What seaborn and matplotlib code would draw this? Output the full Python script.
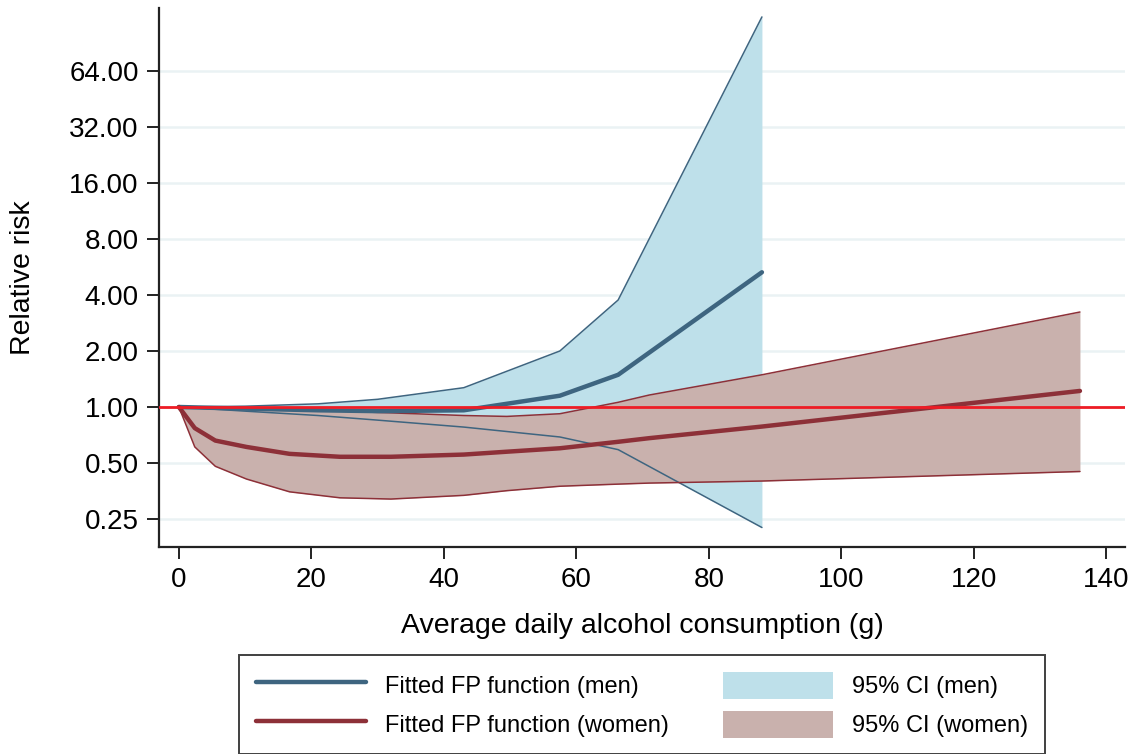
import numpy as np
import pandas as pd
import matplotlib
matplotlib.use("Agg")
import matplotlib.pyplot as plt
from matplotlib.lines import Line2D
from matplotlib.patches import Patch
import seaborn as sns

# ---- data ----
men_x = [0, 10, 21, 30, 43, 57.5, 66.3, 88]
men_rr = [1.0, 0.98, 0.96, 0.95, 0.96, 1.15, 1.49, 5.3]
men_lo = [1.0, 0.95, 0.90, 0.85, 0.78, 0.69, 0.59, 0.225]
men_hi = [1.0, 1.01, 1.04, 1.10, 1.27, 2.0, 3.76, 125.0]

women_x = [0, 2.4, 5.5, 10.2, 16.7, 24.3, 32, 43, 49.5, 57.5, 66.3, 71, 88, 136]
women_rr = [1.0, 0.77, 0.66, 0.61, 0.56, 0.54, 0.54, 0.555, 0.575, 0.60, 0.65, 0.68, 0.785, 1.22]
women_lo = [1.0, 0.61, 0.48, 0.41, 0.35, 0.325, 0.32, 0.335, 0.355, 0.375, 0.385, 0.39, 0.40, 0.45]
women_hi = [1.0, 0.995, 0.99, 0.985, 0.97, 0.95, 0.93, 0.90, 0.89, 0.92, 1.06, 1.16, 1.49, 3.24]

yticks = [0.25, 0.5, 1, 2, 4, 8, 16, 32, 64]
ytick_labels = ["0.25", "0.50", "1.00", "2.00", "4.00", "8.00", "16.00", "32.00", "64.00"]
xticks = [0, 20, 40, 60, 80, 100, 120, 140]

labels = ["Fitted FP function (men)", "Fitted FP function (women)", "95% CI (men)", "95% CI (women)"]

# ---- style ----
sns.set_theme(style="white")
plt.rcParams["font.family"] = ["Liberation Sans", "DejaVu Sans"]

men_line_c = "#3e6580"
men_fill_c = "#bee0ea"
women_line_c = "#8d3038"
women_fill_c = "#c9b1ad"
ref_c = "#ee1c25"
grid_c = "#eaf2f4"

df_men = pd.DataFrame({"x": men_x, "rr": men_rr, "lo": men_lo, "hi": men_hi})
df_women = pd.DataFrame({"x": women_x, "rr": women_rr, "lo": women_lo, "hi": women_hi})

fig = plt.figure(figsize=(11.36, 7.54), dpi=100)
ax = fig.add_axes([159 / 1136, 1 - 547 / 754, (1125 - 159) / 1136, (547 - 8) / 754])

ax.set_yscale("log", base=2)

for t in yticks:
    ax.axhline(t, color=grid_c, lw=1.8, zorder=0)

# CI fills
ax.fill_between(df_men["x"], df_men["lo"], df_men["hi"], color=men_fill_c, lw=0, zorder=1)
ax.fill_between(df_women["x"], df_women["lo"], df_women["hi"], color=women_fill_c, lw=0, zorder=2)

# CI boundaries
for col in ["lo", "hi"]:
    sns.lineplot(data=df_men, x="x", y=col, ax=ax, color=men_line_c, lw=1.1, zorder=3, estimator=None, sort=False)
    sns.lineplot(data=df_women, x="x", y=col, ax=ax, color=women_line_c, lw=1.1, zorder=3, estimator=None, sort=False)

# fitted lines
sns.lineplot(data=df_men, x="x", y="rr", ax=ax, color=men_line_c, lw=3.2, zorder=4, estimator=None, sort=False)
sns.lineplot(data=df_women, x="x", y="rr", ax=ax, color=women_line_c, lw=3.2, zorder=4, estimator=None, sort=False)

ax.axhline(1.0, color=ref_c, lw=2, zorder=5)

ax.set_xlim(-3.0, 142.8)
ax.set_ylim(2 ** ((407 - 547) / 56), 2 ** ((407 - 8) / 56))
ax.set_yticks(yticks)
ax.set_yticklabels(ytick_labels)
ax.minorticks_off()
ax.set_xticks(xticks)
ax.set_xticklabels([str(v) for v in xticks])

for s in ["top", "right"]:
    ax.spines[s].set_visible(False)
for s in ["left", "bottom"]:
    ax.spines[s].set_color("#222222")
    ax.spines[s].set_linewidth(1.6)

ax.tick_params(axis="both", which="major", direction="out", length=8.5, width=1.4,
               color="#222222", labelsize=20, labelcolor="black", pad=6,
               left=True, bottom=True)

ax.set_xlabel("Average daily alcohol consumption (g)", fontsize=20.5, labelpad=14, color="black")
ax.set_ylabel("Relative risk", fontsize=20.5, labelpad=24, color="black")

handles = [
    Line2D([0], [0], color=men_line_c, lw=3.2),
    Line2D([0], [0], color=women_line_c, lw=3.2),
    Patch(facecolor=men_fill_c, edgecolor="none"),
    Patch(facecolor=women_fill_c, edgecolor="none"),
]
leg = fig.legend(handles, labels, ncol=2, loc="upper center",
                 bbox_to_anchor=(642 / 1136, 1 - 655 / 754),
                 fontsize=17, frameon=True, fancybox=False,
                 handlelength=4.66, handleheight=1.4, handletextpad=0.8,
                 columnspacing=2.3, labelspacing=0.5, borderpad=0.7,
                 borderaxespad=0)
for t in leg.get_texts():
    t.set_color("black")
leg.get_frame().set_edgecolor("#111111")
leg.get_frame().set_linewidth(1.4)

fig.savefig("out.png", dpi=100)
